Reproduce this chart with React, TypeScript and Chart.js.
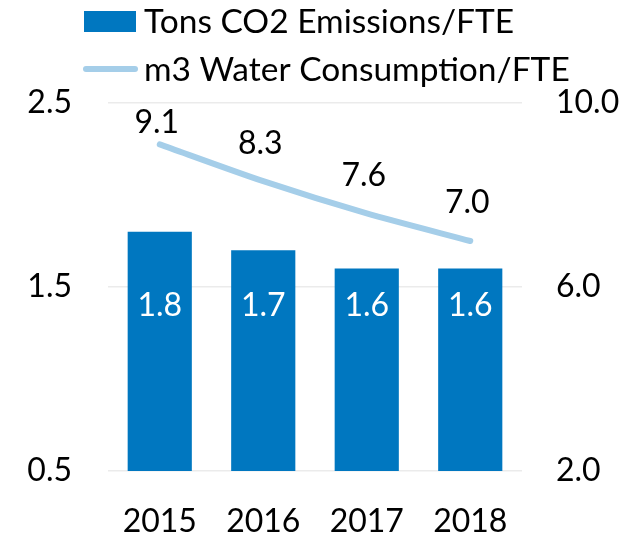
import React, { useEffect, useRef } from "react";
import { Chart, registerables } from "chart.js";

Chart.register(...registerables);

const categories = ["2015", "2016", "2017", "2018"];
const co2Values = [1.8, 1.7, 1.6, 1.6];
const waterValues = [9.1, 8.3, 7.6, 7.0];
const leftTicks = [0.5, 1.5, 2.5];
const rightTicks = [2.0, 6.0, 10.0];
const seriesNames = ["Tons CO2 Emissions/FTE", "m3 Water Consumption/FTE"];

const BAR_COLOR = "#0077c0";
const LINE_COLOR = "#a5cee9";
const FONT = "Lato, 'Open Sans', sans-serif";

export default function App() {
  const ref = useRef<HTMLCanvasElement | null>(null);

  useEffect(() => {
    const canvas = ref.current;
    if (!canvas) return;

    const labelPlugin = {
      id: "customLabels",
      afterDatasetsDraw(chart: any) {
        const ctx = chart.ctx;
        const area = chart.chartArea;
        ctx.save();
        ctx.font = `32px ${FONT}`;
        ctx.textAlign = "center";
        ctx.textBaseline = "middle";
        const barMeta = chart.getDatasetMeta(0);
        const yL = chart.scales.yL;
        barMeta.data.forEach((el: any, i: number) => {
          ctx.fillStyle = "#ffffff";
          ctx.fillText(co2Values[i].toFixed(1), el.x, yL.getPixelForValue(1.4));
        });
        const lineMeta = chart.getDatasetMeta(1);
        lineMeta.data.forEach((el: any, i: number) => {
          ctx.fillStyle = "#000000";
          const y = Math.max(el.y - 38, area.top + 20);
          ctx.fillText(waterValues[i].toFixed(1), el.x - 3, y);
        });
        ctx.restore();
      },
      afterDraw(chart: any) {
        const ctx = chart.ctx;
        ctx.save();
        ctx.fillStyle = BAR_COLOR;
        ctx.fillRect(84, 11, 52, 21);
        ctx.strokeStyle = LINE_COLOR;
        ctx.lineWidth = 6;
        ctx.lineCap = "round";
        ctx.beginPath();
        ctx.moveTo(86, 69);
        ctx.lineTo(135, 69);
        ctx.stroke();
        ctx.fillStyle = "#000000";
        ctx.font = `33.5px ${FONT}`;
        ctx.textAlign = "left";
        ctx.textBaseline = "middle";
        ctx.fillText(seriesNames[0], 144, 22);
        ctx.fillText(seriesNames[1], 144, 70);
        ctx.restore();
      },
    };

    const chart = new Chart(canvas, {
      data: {
        labels: categories,
        datasets: [
          {
            type: "bar",
            label: seriesNames[0],
            data: co2Values,
            yAxisID: "yL",
            backgroundColor: BAR_COLOR,
            categoryPercentage: 1,
            barPercentage: 0.62,
            order: 1,
          } as any,
          {
            type: "line",
            label: seriesNames[1],
            data: waterValues,
            yAxisID: "yR",
            borderColor: LINE_COLOR,
            backgroundColor: LINE_COLOR,
            borderWidth: 6,
            borderCapStyle: "round",
            pointRadius: 0,
            tension: 0.25,
            order: 0,
          } as any,
        ],
      },
      options: {
        animation: false,
        responsive: false,
        maintainAspectRatio: false,
        layout: { padding: { top: 103, left: 0, right: 0, bottom: 0 } },
        plugins: {
          legend: { display: false },
          tooltip: { enabled: false },
        },
        scales: {
          x: {
            grid: { display: false },
            border: { display: false },
            ticks: {
              color: "#000",
              font: { family: FONT, size: 32 },
              padding: 23,
            },
            afterFit(scale: any) {
              scale.height = 64;
            },
          },
          yL: {
            type: "linear",
            position: "left",
            min: 0.5,
            max: 2.5,
            afterBuildTicks(scale: any) {
              scale.ticks = leftTicks.map((v) => ({ value: v }));
            },
            grid: { color: "#ebebeb", lineWidth: 1.5, drawTicks: false },
            border: { display: false },
            ticks: {
              color: "#000",
              font: { family: FONT, size: 32 },
              padding: 36,
              callback: (v: any) => Number(v).toFixed(1),
            },
            afterFit(scale: any) {
              scale.width = 108;
            },
          },
          yR: {
            type: "linear",
            position: "right",
            min: 2,
            max: 10,
            afterBuildTicks(scale: any) {
              scale.ticks = rightTicks.map((v) => ({ value: v }));
            },
            grid: { display: false, drawTicks: false },
            border: { display: false },
            ticks: {
              color: "#000",
              font: { family: FONT, size: 32 },
              padding: 34,
              callback: (v: any) => Number(v).toFixed(1),
            },
            afterFit(scale: any) {
              scale.width = 105;
            },
          },
        },
      } as any,
      plugins: [labelPlugin],
    });

    return () => chart.destroy();
  }, []);

  return (
    <div style={{ position: "fixed", left: 0, top: 0, width: 627, height: 535, background: "#fff" }}>
      <canvas ref={ref} width={627} height={535} style={{ width: 627, height: 535 }} />
    </div>
  );
}
